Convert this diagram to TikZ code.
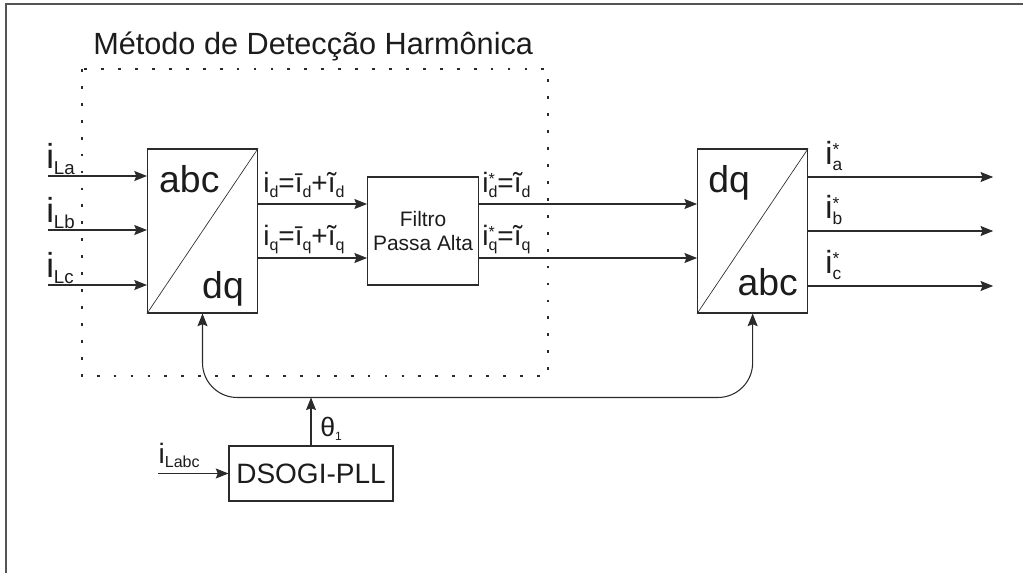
\documentclass[tikz,border=0pt]{standalone}
\usepackage{fontspec}
\setmainfont{Liberation Sans}
\usepackage{tikz}
\usetikzlibrary{arrows.meta,positioning,calc}
\definecolor{linecol}{HTML}{2B2B2B}
\definecolor{framecol}{HTML}{555555}
\definecolor{textcol}{HTML}{1C1C1C}
\newcommand{\sbs}[2][12]{\raisebox{-0.3ex}{\fontsize{#1}{#1}\selectfont #2}}
\newcommand{\supst}[2][12]{\rlap{\raisebox{#2}{\fontsize{#1}{#1}\selectfont *}}}

\begin{document}
\begin{tikzpicture}[
  x=0.75pt,y=-0.75pt,
  font=\fontsize{21}{25}\selectfont, text=textcol,
  conv/.style={draw=linecol,line width=0.8pt,minimum width=82.5pt,minimum height=123pt,inner sep=0pt},
  hpfbox/.style={draw=linecol,line width=0.8pt,minimum width=83.25pt,minimum height=81pt,
                 align=center,inner sep=2pt,font=\fontsize{15.7}{17.5}\selectfont},
  pllbox/.style={draw=linecol,line width=0.8pt,minimum width=123pt,minimum height=41.25pt,inner sep=0pt},
  big/.style={font=\fontsize{28}{28}\selectfont,inner sep=0pt},
  sig/.style={inner sep=0pt,anchor=base west},
  ar/.style={-{Stealth[length=9.5pt,width=7.5pt,inset=1.5pt]},line width=0.8pt,draw=linecol},
  dotbox/.style={draw=linecol,line width=2.1pt,dash pattern=on 2.1pt off 10.6pt},
]
\useasboundingbox (0,0) rectangle (1023,573);
\draw[framecol,line width=1.1pt] (6,573) |- (1023,4);

% detection block
\draw[dotbox] (82,69) rectangle (548,376);
\node[anchor=base west,inner sep=0pt,font=\fontsize{23}{27}\selectfont] (title) at (93,55)
  {Método de Detecção Harmônica};

\node[conv] (abcdq) at (202.5,231) {};
\node[hpfbox,right=81.75pt of abcdq] (hpf) {Filtro\\ Passa Alta};
\node[conv,right=163.5pt of hpf] (dqabc) {};
\node[pllbox] (pll) at (311,473.5) {DSOGI-PLL};

\draw[linecol,line width=0.5pt] (abcdq.south west) -- (abcdq.north east);
\draw[linecol,line width=0.5pt] (dqabc.south west) -- (dqabc.north east);
\node[big,anchor=base west] (abcA) at ($(abcdq.north west)+(12,44)$) {abc};
\node[big,anchor=base east] (dqA) at ($(abcdq.south east)+(-14,-15)$) {dq};
\node[big,anchor=base west] (dqB) at ($(dqabc.north west)+(11,44)$) {dq};
\node[big,anchor=base east] (abcB) at ($(dqabc.south east)+(-10,-18)$) {abc};

% load currents
\foreach \nm/\yy/\ph in {La/176/a,Lb/230/b,Lc/285/c}{
  \coordinate (in\ph) at (48,\yy);
  \draw[ar] (in\ph) -- (in\ph -| abcdq.west);
  \node[sig,font=\fontsize{26}{26}\selectfont] (lbl\ph) at ($(in\ph)+(-2,-7)$) {i\sbs[14]{\nm}};
}

% dq currents
\coordinate (dout) at ($(abcdq.east)+(0,-27)$);
\coordinate (qout) at ($(abcdq.east)+(0,27)$);
\draw[ar] (dout) -- (dout -| hpf.west);
\draw[ar] (qout) -- (qout -| hpf.west);
\node[sig] (idlbl) at ($(dout)+(5,-11)$) {i\sbs{d}=ī\sbs{d}+ĩ\sbs{d}};
\node[sig] (iqlbl) at ($(qout)+(5,-12)$) {i\sbs{q}=ī\sbs{q}+ĩ\sbs{q}};

\coordinate (dref) at (hpf.east |- dout);
\coordinate (qref) at (hpf.east |- qout);
\draw[ar] (dref) -- (dref -| dqabc.west);
\draw[ar] (qref) -- (qref -| dqabc.west);
\node[sig] (idref) at ($(dref)+(3,-11)$) {i\supst{6pt}\sbs{d}=ĩ\sbs{d}};
\node[sig] (iqref) at ($(qref)+(3,-12)$) {i\supst{6pt}\sbs{q}=ĩ\sbs{q}};

% reference currents
\foreach \ph/\dy in {a/-54,b/0,c/55}{
  \coordinate (o\ph) at ($(dqabc.east)+(185,\dy)$);
  \draw[ar] (o\ph -| dqabc.east) -- (o\ph);
  \node[sig,font=\fontsize{24}{24}\selectfont] (out\ph) at ($(o\ph -| dqabc.east)+(17,-12)$)
    {i\supst[13]{7pt}\sbs[13]{\ph}};
}

% PLL and angle
\coordinate[left=52.5pt of pll.west] (iabc);
\draw[ar] (iabc) -- (pll.west);
\node[sig] (iabclbl) at ($(iabc)+(0,-10)$) {i\sbs{Labc}};
\coordinate[above=36pt of pll.north] (bus);
\draw[ar] (pll.north) -- (bus);
\node[sig,font=\fontsize{20}{20}\selectfont] (theta) at ($(pll.north)+(9,-9)$) {θ\sbs[9]{1}};
\draw[ar,rounded corners=26pt] (bus) -| (abcdq.south);
\draw[ar,rounded corners=26pt] (bus) -| (dqabc.south);
\end{tikzpicture}
\end{document}
